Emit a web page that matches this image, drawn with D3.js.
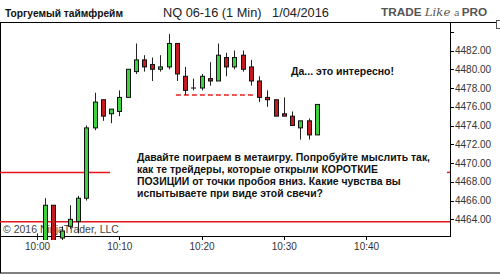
<!DOCTYPE html>
<html>
<head>
<meta charset="utf-8">
<title>NQ 06-16 (1 Min)</title>
<script src="https://d3js.org/d3.v7.min.js"></script>
<style>
  body { margin: 0; background: #fff; }
  svg { display: block; font-family: "Liberation Sans", Arial, sans-serif; }
  .axis path, .axis line { stroke: #000; shape-rendering: crispEdges; }
  .axis text { font-size: 10px; fill: #333; font-family: "Liberation Sans", Arial, sans-serif; }
</style>
</head>
<body>
<svg width="500" height="274"></svg>
<script>
// 1-minute bars, NQ 06-16, 1/04/2016
var times  = ["10:00","10:01","10:02","10:03","10:04","10:05","10:06","10:07","10:08","10:09",
              "10:10","10:11","10:12","10:13","10:14","10:15","10:16","10:17","10:18","10:19",
              "10:20","10:21","10:22","10:23","10:24","10:25","10:26","10:27","10:28","10:29",
              "10:30","10:31","10:32","10:33","10:34"];
var opens  = [4461.5, 4461.75, 4465.5, 4462.0, 4463.25, 4463.75, 4466.25, 4473.75, 4476.75, 4475.25,
              4475.5, 4477.0, 4479.75, 4481.0, 4480.5, 4480.0, 4480.25, 4482.75, 4479.25, 4478.0,
              4478.0, 4479.0, 4478.75, 4481.25, 4480.25, 4481.5, 4480.25, 4478.75, 4477.0, 4476.75,
              4475.25, 4475.0, 4473.75, 4474.5, 4473.0];
var highs  = [4462.5, 4466.25, 4465.5, 4463.25, 4465.5, 4466.5, 4474.0, 4477.5, 4476.75, 4475.75,
              4477.75, 4480.0, 4482.75, 4481.5, 4481.25, 4481.5, 4483.75, 4482.75, 4480.25, 4479.0,
              4479.5, 4480.75, 4482.75, 4481.75, 4482.0, 4482.0, 4481.0, 4479.25, 4477.75, 4476.75,
              4477.0, 4475.5, 4474.5, 4474.75, 4476.25];
var lows   = [4460.75, 4461.5, 4461.25, 4461.75, 4463.0, 4462.5, 4466.0, 4473.5, 4474.5, 4474.25,
              4475.0, 4477.0, 4479.5, 4479.75, 4478.75, 4479.75, 4480.0, 4478.75, 4477.25, 4477.75,
              4477.75, 4478.25, 4478.75, 4479.25, 4480.0, 4479.75, 4478.25, 4476.5, 4476.0, 4475.0,
              4475.0, 4474.0, 4472.5, 4472.5, 4473.0];
var closes = [4461.25, 4465.5, 4461.5, 4462.75, 4464.0, 4466.25, 4473.75, 4476.5, 4475.0, 4475.75,
              4477.0, 4480.0, 4481.0, 4480.25, 4480.0, 4480.25, 4482.75, 4479.5, 4477.75, 4478.0,
              4479.25, 4478.75, 4481.5, 4480.25, 4481.25, 4480.0, 4478.75, 4477.0, 4476.75, 4475.0,
              4475.0, 4474.0, 4474.5, 4473.0, 4476.25];

var xTicks = ["10:00","10:10","10:20","10:30","10:40"];
var yTicks = [4464, 4466, 4468, 4470, 4472, 4474, 4476, 4478, 4480, 4482, 4484];

var breakLevel = 4477.25;               // dashed line, low of the 10:18 bar
var breakFrom = "10:17", breakTo = "10:26";
var levelShort = 4469.0;                // red line on the left
var levelLong  = 4463.75;               // red line across the chart

var note1 = "Да... это интересно!";
var note2 = ["Давайте поиграем в метаигру. Попробуйте мыслить так,",
             "как те трейдеры, которые открыли КОРОТКИЕ",
             "ПОЗИЦИИ от точки пробоя вниз. Какие чувства вы",
             "испытываете при виде этой свечи?"];

var svg = d3.select("svg");
var W = 500, H = 274;
var plotR = 450, plotT = 22, plotB = 236;

var parse = d3.timeParse("%H:%M");
var t0 = parse("10:00");
var x = d3.scaleTime()
  .domain([d3.timeSecond.offset(t0, -270), d3.timeSecond.offset(t0, 3012)])
  .range([0, plotR]);
var y = d3.scaleLinear().domain([4462.22, 4485.04]).range([plotB, plotT]);

var bars = times.map(function (t, i) {
  return { t: parse(t), o: opens[i], h: highs[i], l: lows[i], c: closes[i] };
});

// header
function fit(sel, w) {
  var len = sel.node().getComputedTextLength();
  var fs = parseFloat(sel.attr("font-size"));
  sel.attr("font-size", (fs * w / len).toFixed(2));
}
fit(svg.append("text").attr("x", 5).attr("y", 17).attr("font-size", 11)
  .attr("font-weight", "bold").attr("fill", "#111").text("Торгуемый таймфрейм"), 118);
fit(svg.append("text").attr("x", 163).attr("y", 16.5).attr("font-size", 12)
  .attr("fill", "#222").text("NQ 06-16 (1 Min)\u00a0\u00a0 1/04/2016"), 166);
var logo = svg.append("text").attr("x", 381).attr("y", 16).attr("fill", "#555").attr("font-size", 12);
logo.append("tspan").attr("font-weight", "bold").text("TRADE ");
logo.append("tspan").attr("font-style", "italic").attr("font-family", "DejaVu Serif, serif").text("Like ");
logo.append("tspan").attr("font-style", "italic").attr("font-size", 9).text("a ");
logo.append("tspan").attr("font-weight", "bold").text("PRO");
fit(logo, 106);

// frames
svg.append("rect").attr("x", 0.5).attr("y", plotT + 0.5).attr("width", W).attr("height", H - plotT - 1.5)
  .attr("fill", "none").attr("stroke", "#000");
svg.append("rect").attr("x", 496.5).attr("y", 20.5).attr("width", 8).attr("height", 8)
  .attr("fill", "#fff").attr("stroke", "#555");

svg.append("text").attr("x", 3).attr("y", 233).attr("font-size", 10.5).attr("fill", "#444")
  .text("© 2016 NinjaTrader, LLC");

// axes
svg.append("g").attr("class", "axis").attr("transform", "translate(0," + plotB + ")")
  .call(d3.axisBottom(x).tickValues(xTicks.map(parse)).tickSize(4).tickSizeOuter(0)
    .tickFormat(d3.timeFormat("%H:%M")))
  .call(function (g) { g.select(".domain").attr("d", "M0,0.5H" + (plotR + 0.5)); });
svg.append("g").attr("class", "axis").attr("transform", "translate(" + plotR + ",0)")
  .call(d3.axisRight(y).tickValues(yTicks).tickSize(4).tickSizeOuter(0).tickPadding(1)
    .tickFormat(function (d) { return d === 4484 ? "" : d3.format(".2f")(d); }))
  .call(function (g) { g.select(".domain").attr("d", "M0.5," + plotT + "V" + plotB); });

// level lines
svg.append("line").attr("x1", 0).attr("x2", x(parse("10:09")) - 1)
  .attr("y1", y(levelShort)).attr("y2", y(levelShort))
  .attr("stroke", "#e8141c").attr("stroke-width", 1.5);
svg.append("line").attr("x1", plotR - 3).attr("x2", plotR)
  .attr("y1", y(levelShort)).attr("y2", y(levelShort))
  .attr("stroke", "#e8141c").attr("stroke-width", 1.5);
svg.append("line").attr("x1", 0).attr("x2", plotR)
  .attr("y1", y(levelLong)).attr("y2", y(levelLong))
  .attr("stroke", "#e8141c").attr("stroke-width", 1.5);
svg.append("line").attr("x1", x(parse(breakFrom)) - 1).attr("x2", x(parse(breakTo)) + 2)
  .attr("y1", y(breakLevel)).attr("y2", y(breakLevel))
  .attr("stroke", "#e02020").attr("stroke-width", 1.6).attr("stroke-dasharray", "5,3");

// candles
svg.append("clipPath").attr("id", "plot").append("rect")
  .attr("x", 0).attr("y", plotT).attr("width", plotR).attr("height", plotB - plotT + 4);
var candle = svg.append("g").attr("clip-path", "url(#plot)")
  .selectAll("g").data(bars).enter().append("g");
candle.append("line")
  .attr("x1", function (d) { return Math.round(x(d.t)) + 0.5; })
  .attr("x2", function (d) { return Math.round(x(d.t)) + 0.5; })
  .attr("y1", function (d) { return y(d.h); })
  .attr("y2", function (d) { return y(d.l); })
  .attr("stroke", "#222");
candle.append("rect")
  .attr("x", function (d) { return Math.round(x(d.t)) - 1.5; })
  .attr("y", function (d) { return y(Math.max(d.o, d.c)); })
  .attr("width", 4)
  .attr("height", function (d) { return Math.max(0.01, Math.abs(y(d.o) - y(d.c))); })
  .attr("fill", function (d) { return d.c > d.o ? "#3fd03f" : "#c41a22"; })
  .attr("stroke", "#111").attr("stroke-width", 1);

// notes
svg.append("text").attr("x", 291).attr("y", 75).attr("font-size", 10.5)
  .attr("font-weight", "bold").attr("fill", "#111").text(note1);
var para = svg.append("g").attr("font-weight", "bold").attr("fill", "#111");
var first = para.append("text").attr("x", 137).attr("y", 161).attr("font-size", 10.5).text(note2[0]);
fit(first, 293);
var fs = first.attr("font-size");
note2.slice(1).forEach(function (s, i) {
  para.append("text").attr("x", 137).attr("y", 161 + 12 * (i + 1)).attr("font-size", fs).text(s);
});
</script>
</body>
</html>
